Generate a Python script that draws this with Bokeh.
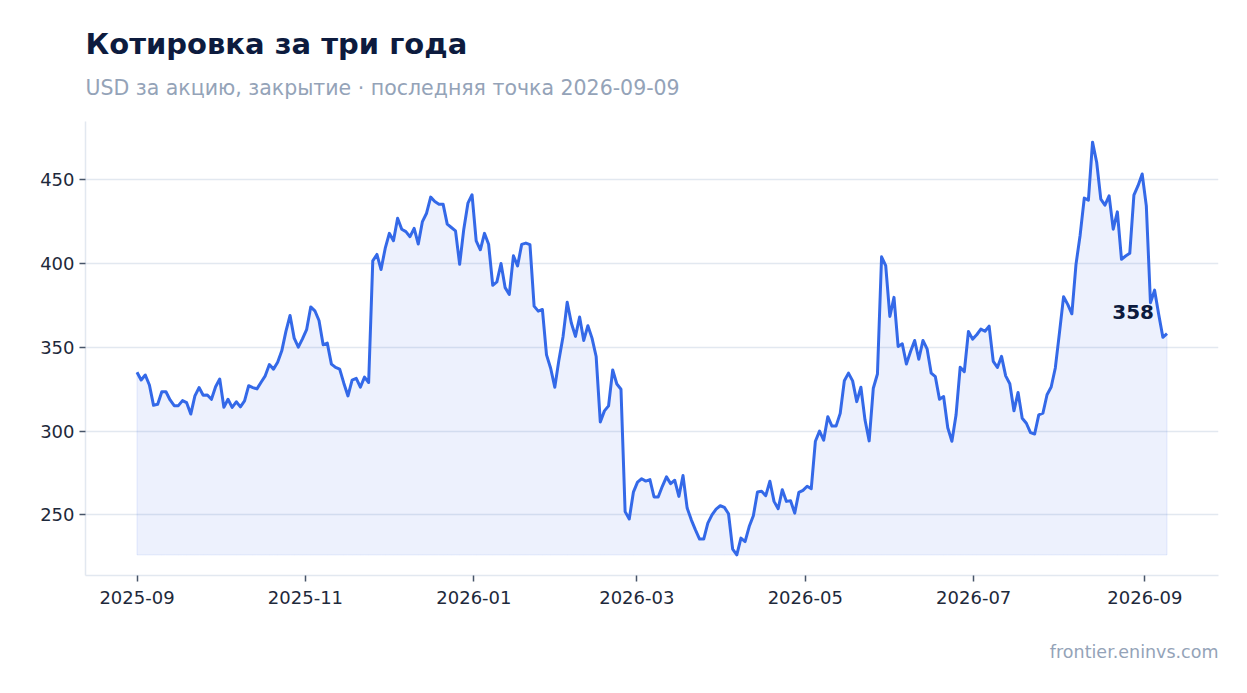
import numpy as np
import pandas as pd
from bokeh.plotting import figure
from bokeh.models import ColumnDataSource, Title, DatetimeTickFormatter, MonthsTicker, SingleIntervalTicker
from bokeh.core.properties import value
from bokeh.embed import file_html
from bokeh.resources import INLINE

# closing prices, USD per share
close = [
    335.1, 330.5, 333.5, 327.5, 315.4, 316.0, 323.5, 323.5, 318.6, 315.2,
    315.2, 318.2, 317.0, 310.2, 321.0, 326.0, 321.4, 321.6, 319.0, 326.5,
    331.1, 314.2, 319.0, 314.2, 317.5, 314.5, 318.0, 327.1, 326.0, 325.2,
    329.2, 333.0, 339.7, 337.0, 341.1, 347.9, 359.5, 369.0, 355.5, 350.1,
    355.0, 360.5, 374.1, 371.8, 366.0, 351.5, 352.5, 340.0, 338.0, 337.0,
    328.6, 321.0, 330.5, 331.5, 326.2, 332.2, 329.0, 401.6, 405.4, 396.4,
    409.0, 418.0, 413.6, 427.0, 420.4, 419.0, 416.0, 421.0, 411.6, 425.0,
    430.0, 439.6, 437.0, 435.4, 435.4, 423.5, 421.5, 419.5, 399.5, 420.5,
    436.0, 441.0, 413.5,
    408.2, 418.0, 411.5, 387.0, 389.0, 400.0, 385.6, 381.6, 404.6, 398.6,
    411.4, 412.2, 411.2, 374.6, 371.6, 372.6, 345.5, 337.5, 326.2, 342.5,
    356.5, 376.9, 364.5, 356.5, 368.1, 354.1, 362.9, 355.5, 344.5, 305.5,
    312.1, 315.1, 336.5, 328.1, 325.0, 252.0, 247.6, 263.6, 269.6, 271.6,
    270.2,
    271.1, 260.7, 260.7, 267.1, 272.7, 268.7, 270.7, 261.1, 273.5, 254.1,
    247.1, 241.1, 235.6, 235.6, 245.1, 250.1, 253.5, 255.5, 254.5, 250.7,
    229.6, 226.2, 236.2, 234.1, 243.1, 249.5, 263.7, 264.1, 261.5, 270.1,
    258.1, 253.7, 265.1, 258.1, 258.5, 251.1, 263.5, 264.7, 267.1, 265.7,
    294.0, 300.0,
    294.6, 308.6, 303.0, 303.0, 310.6, 330.1, 334.6, 330.0, 317.6, 326.2,
    306.6, 294.2, 325.6, 334.1, 404.0, 398.8, 368.4, 379.8, 350.5, 352.1,
    340.1, 347.5, 354.1, 342.9, 354.1, 349.1, 334.6, 332.5, 319.0, 320.6,
    302.0, 294.0, 309.6, 338.1, 335.5, 359.5, 354.9, 357.5, 360.9,
    359.6, 362.6, 341.6, 338.0, 344.6, 333.0, 328.3, 312.1, 323.1, 307.7,
    304.7, 299.1, 298.3, 309.7, 310.7, 321.7, 326.3, 337.7, 358.6, 380.2,
    375.6, 370.0, 399.5, 416.9, 439.0, 437.8, 472.4, 460.4, 438.4, 434.8,
    440.4, 420.5, 430.8, 402.5, 404.5, 406.1, 440.8, 446.4, 453.4, 434.4,
    376.6, 384.1, 369.6, 356.0, 358.2,
]
first_day = "2025-09-01"
last_day = "2026-09-09"
dates = pd.date_range(first_day, last_day, periods=len(close))

title_text = "Котировка за три года"
subtitle_text = "USD за акцию, закрытие · последняя точка " + last_day
footer_text = "frontier.eninvs.com"

BLUE = "#3469e8"
NAVY = "#0d1b3e"
GREY = "#94a3b8"
GRID = "#e2e8f0"
FONT = "DejaVu Sans"

src = ColumnDataSource(data=dict(date=dates, close=close))

p = figure(width=1231, height=677, x_axis_type="datetime", title=None,
           toolbar_location=None, output_backend="svg",
           min_border_left=85, min_border_right=13,
           min_border_top=121, min_border_bottom=102)
p.outline_line_color = None
p.background_fill_color = "white"
p.border_fill_color = "white"

# shaded area under the line, down to the lowest close
base = min(close)
xs = np.concatenate([dates.values, dates.values[::-1]])
ys = np.concatenate([np.array(close), np.full(len(close), base)])
p.patch(xs, ys, fill_color=BLUE, fill_alpha=0.09, line_color=BLUE, line_alpha=0.12, line_width=1)

p.line("date", "close", source=src, line_color=BLUE, line_width=3, line_join="round")

# last value label
p.text(x=[dates[-1]], y=[close[-1]], text=["%.0f" % close[-1]],
       text_align="right", text_baseline="middle", x_offset=-13, y_offset=-22,
       text_font=value(FONT), text_font_size="20px", text_font_style="bold", text_color=NAVY)

def spacer(gap):
    # blank title used only to push the next one away from the frame
    return Title(text=" ", text_font_size="2px", standoff=gap)

# titles (first added sits closest to the frame)
p.add_layout(spacer(17), "above")
p.add_layout(Title(text=subtitle_text, text_font=FONT, text_font_size="20.5px",
                   text_font_style="normal", text_color=GREY, standoff=2), "above")
p.add_layout(Title(text=title_text, text_font=FONT, text_font_size="29px",
                   text_font_style="bold", text_color=NAVY, standoff=23), "above")
p.add_layout(spacer(28), "below")
p.add_layout(Title(text=footer_text, text_font=FONT, text_font_size="17.5px",
                   text_font_style="normal", text_color=GREY, align="right", standoff=2), "below")

# axes
p.xaxis.ticker = MonthsTicker(months=[0, 2, 4, 6, 8, 10])
p.xaxis.formatter = DatetimeTickFormatter(months="%Y-%m", days="%Y-%m")
p.yaxis.ticker = SingleIntervalTicker(interval=50)
for ax in (p.xaxis, p.yaxis):
    ax.axis_line_color = GRID
    ax.axis_line_width = 1.5
    ax.major_tick_line_color = "#475569"
    ax.major_tick_line_width = 1.5
    ax.major_tick_out = 6
    ax.major_tick_in = 0
    ax.minor_tick_line_color = None
    ax.major_label_text_font = FONT
    ax.major_label_text_font_size = "18px"
    ax.major_label_text_color = "#1e293b"
p.xaxis.major_label_standoff = 9

p.xgrid.grid_line_color = None
p.ygrid.grid_line_color = GRID
p.ygrid.grid_line_width = 1.5

open("out.html", "w").write(file_html(p, INLINE))
